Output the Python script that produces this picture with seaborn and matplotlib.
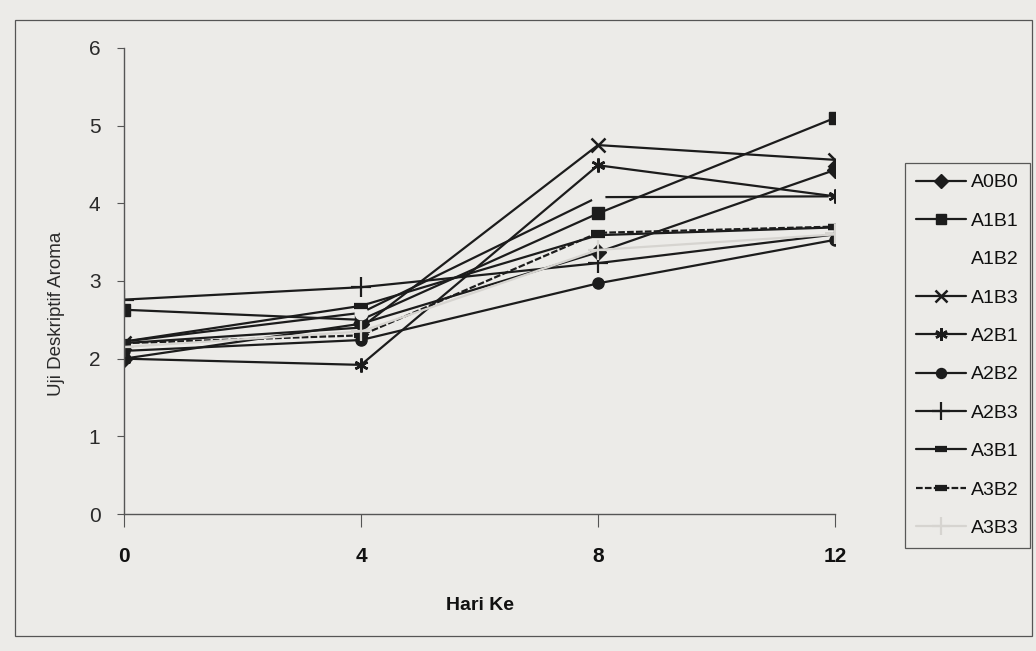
import numpy as np
import pandas as pd
import matplotlib
matplotlib.use("Agg")
import matplotlib.pyplot as plt
from matplotlib.lines import Line2D
import seaborn as sns
from matplotlib.patches import Rectangle

# Storage day (Hari Ke)
days = [0, 4, 8, 12]

# Descriptive aroma scores per treatment
A0B0 = [2.00, 2.45, 3.37, 4.43]
A1B1 = [2.63, 2.50, 3.87, 5.10]
A1B2 = [2.22, 2.59, 4.08, 4.09]
A1B3 = [2.20, 2.40, 4.75, 4.56]
A2B1 = [2.00, 1.92, 4.49, 4.09]
A2B2 = [2.10, 2.24, 2.97, 3.53]
A2B3 = [2.76, 2.92, 3.23, 3.60]
A3B1 = [2.22, 2.68, 3.59, 3.69]
A3B2 = [2.20, 2.30, 3.62, 3.70]
A3B3 = [2.15, 2.35, 3.40, 3.60]

treatments = ["A0B0", "A1B1", "A1B2", "A1B3", "A2B1",
              "A2B2", "A2B3", "A3B1", "A3B2", "A3B3"]
series = [A0B0, A1B1, A1B2, A1B3, A2B1, A2B2, A2B3, A3B1, A3B2, A3B3]

df = pd.DataFrame(
    [(d, t, v) for t, vals in zip(treatments, series) for d, v in zip(days, vals)],
    columns=["Hari Ke", "Perlakuan", "Aroma"],
)

BG = "#ecebe8"
INK = "#1c1c1c"

sns.set_theme(style="white")
plt.rcParams["font.family"] = ["Liberation Sans", "DejaVu Sans"]

asterisk = (6, 2, 0)
# marker, size, edge width, face, edge, line colour, line style
styles = {
    "A0B0": ("D", 8, 1.0, INK, INK, INK, "-"),
    "A1B1": ("s", 8, 1.0, INK, INK, INK, "-"),
    "A1B2": ("o", 9, 1.0, BG, BG, INK, "-"),
    "A1B3": ("x", 10, 1.8, INK, INK, INK, "-"),
    "A2B1": (asterisk, 10, 1.8, INK, INK, INK, "-"),
    "A2B2": ("o", 8, 1.0, INK, INK, INK, "-"),
    "A2B3": ("+", 14, 1.6, INK, INK, INK, "-"),
    "A3B1": ("_", 10, 4.5, INK, INK, INK, "-"),
    "A3B2": ("_", 10, 4.5, INK, INK, INK, (0, (3, 1))),
    "A3B3": ("+", 14, 1.6, "#d6d4d0", "#d6d4d0", "#d6d4d0", "-"),
}

fig = plt.figure(figsize=(10.36, 6.51), dpi=100, facecolor=BG)
ax = fig.add_axes([124 / 1036, 1 - 514 / 651, (835 - 124) / 1036, (514 - 48) / 651])
ax.set_facecolor(BG)

handles = []
for t in treatments:
    m, ms, mew, mfc, mec, lc, ls = styles[t]
    sub = df[df["Perlakuan"] == t]
    sns.lineplot(
        data=sub, x="Hari Ke", y="Aroma", color=lc, linewidth=1.6,
        linestyle=ls, marker=m, markersize=ms, markeredgewidth=mew,
        markerfacecolor=mfc, markeredgecolor=mec, ax=ax, legend=False,
    )
    if t == "A1B2":
        h = Line2D([], [], color=BG, linewidth=1.6)
    else:
        h = Line2D([], [], color=lc, linewidth=1.6, linestyle=ls, marker=m,
                   markersize=ms, markeredgewidth=mew,
                   markerfacecolor=mfc, markeredgecolor=mec)
    handles.append(h)

ax.set_xlim(0, 12)
ax.set_ylim(0, 6)
ax.set_xticks(days)
ax.set_yticks(range(0, 7))

for side in ("top", "right"):
    ax.spines[side].set_visible(False)
for side in ("left", "bottom"):
    ax.spines[side].set_color("#555555")
    ax.spines[side].set_linewidth(1.0)

ax.tick_params(axis="y", direction="out", length=5, width=0.8, color="#555555",
               pad=12, labelsize=15, labelcolor="#2a2a2a", left=True)
ax.tick_params(axis="x", direction="out", length=9, width=0.8, color="#555555",
               pad=15, labelsize=15, labelcolor="#111111", bottom=True)
for lab in ax.get_xticklabels():
    lab.set_fontweight("bold")

ax.set_xlabel("Hari Ke", fontsize=14, fontweight="bold", color="#111111", labelpad=22)
ax.set_ylabel("Uji Deskriptif Aroma", fontsize=13.5, color="#2a2a2a")
ax.yaxis.set_label_coords(-0.083, 0.43)

leg = fig.legend(
    handles, treatments, loc="upper left",
    bbox_to_anchor=(905 / 1036, 1 - 163 / 651), bbox_transform=fig.transFigure,
    frameon=True, fancybox=False, edgecolor="#333333", facecolor=BG,
    fontsize=14, handlelength=2.6, handletextpad=0.25, labelspacing=1.07,
    borderpad=0.55, borderaxespad=0.0, markerscale=0.9,
)
leg.get_frame().set_linewidth(0.9)
for txt in leg.get_texts():
    txt.set_color("#111111")

# outer chart-area border
fig.patches.append(Rectangle(
    (15 / 1036, 1 - 636 / 651), (1032 - 15) / 1036, (636 - 20) / 651,
    transform=fig.transFigure, fill=False, edgecolor="#555555", linewidth=0.9,
))

fig.savefig("out.png", dpi=100, facecolor=BG)
